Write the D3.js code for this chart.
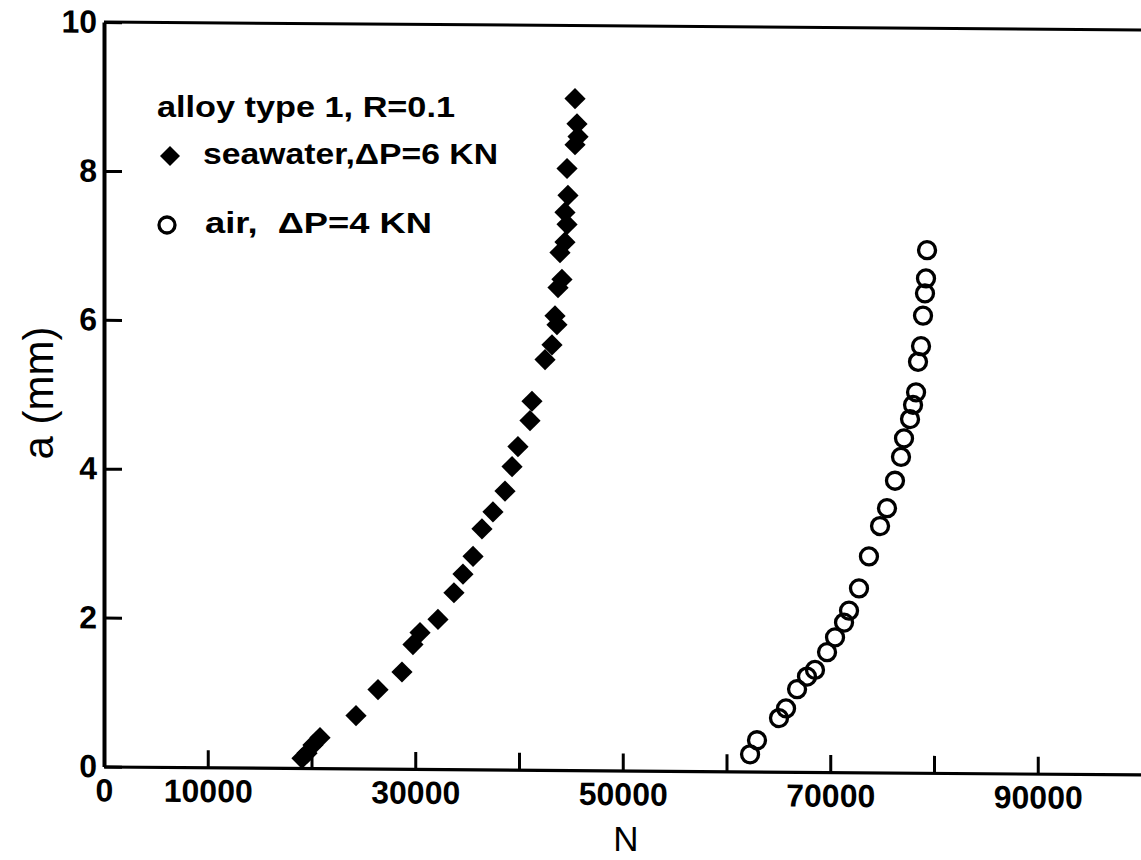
<!DOCTYPE html>
<html>
<head>
<meta charset="utf-8">
<script src="https://cdn.jsdelivr.net/npm/d3@7/dist/d3.min.js"></script>
<style>
  html, body { margin: 0; padding: 0; background: #fff; }
  svg { display: block; }
  text { font-family: "Liberation Sans", Arial, sans-serif; fill: #000; }
</style>
</head>
<body>
<svg id="chart" width="1141" height="860"></svg>
<script>
// ---- data ----
const seawaterN = [19080, 19570, 20140, 20820, 24290, 26410, 28720, 29780, 30460, 32190,
  33730, 34600, 35570, 36430, 37490, 38650, 39330, 39900, 41060, 41250,
  42510, 43180, 43660, 43470, 43760, 44140, 43950, 44430, 44630, 44430,
  44720, 44630, 45400, 45690, 45590, 45400];
const seawaterA = [0.13, 0.20, 0.31, 0.41, 0.71, 1.06, 1.30, 1.67, 1.83, 2.01,
  2.37, 2.62, 2.86, 3.23, 3.46, 3.74, 4.07, 4.34, 4.69, 4.95,
  5.51, 5.71, 5.98, 6.10, 6.48, 6.59, 6.95, 7.09, 7.33, 7.49,
  7.72, 8.08, 8.40, 8.51, 8.68, 9.02];
const airN = [79330, 79230, 79130, 78940, 78750, 78460, 78270, 77980, 77690, 77110,
  76820, 76240, 75470, 74800, 73730, 72770, 71810, 71330, 70460, 69690,
  68530, 67760, 66800, 65740, 65060, 62940, 62270];
const airA = [7.02, 6.64, 6.44, 6.14, 5.73, 5.52, 5.11, 4.94, 4.75, 4.49,
  4.24, 3.92, 3.55, 3.31, 2.90, 2.47, 2.17, 2.01, 1.81, 1.61,
  1.37, 1.28, 1.11, 0.85, 0.72, 0.42, 0.23];
const xTicks = [0, 10000, 20000, 30000, 40000, 50000, 60000, 70000, 80000, 90000];
const xTickLabels = ["0", "10000", "", "30000", "", "50000", "", "70000", "", "90000"];
const yTicks = [0, 2, 4, 6, 8, 10];
const yTickLabels = ["0", "2", "4", "6", "8", "10"];
const legendTitle = "alloy type 1, R=0.1";
const seriesLabels = ["seawater,\u0394P=6 KN", "air,  \u0394P=4 KN"];
const xTitle = "N";
const yTitle = "a (mm)";

// ---- layout ----
const svg = d3.select("#chart");
const x = d3.scaleLinear().domain([0, 100000]).range([104, 1141.5]);
const y = d3.scaleLinear().domain([0, 10]).range([766.5, 22]);

// slight skew of the scanned original
const g = svg.append("g").attr("transform", "translate(0,-0.8) skewY(0.44)");

const tickFont = "bold 32px 'Liberation Sans', Arial, sans-serif";

// x axis
const xAxis = d3.axisBottom(x)
  .tickValues(xTicks)
  .tickFormat((d, i) => xTickLabels[i])
  .tickSizeInner(-17).tickSizeOuter(0).tickPadding(12);
const gx = g.append("g").attr("transform", `translate(0,${y(0)})`).call(xAxis);
gx.select(".domain").attr("stroke", "#000").attr("stroke-width", 3.2);
gx.selectAll(".tick line").attr("stroke", "#000").attr("stroke-width", 3);
gx.selectAll(".tick text").style("font", tickFont).attr("fill", "#000");

// y axis
const yAxis = d3.axisLeft(y)
  .tickValues(yTicks)
  .tickFormat((d, i) => yTickLabels[i])
  .tickSizeInner(-18).tickSizeOuter(0).tickPadding(7);
const gy = g.append("g").attr("transform", `translate(${x(0)},0)`).call(yAxis);
gy.select(".domain").attr("stroke", "#000").attr("stroke-width", 4);
gy.selectAll(".tick line").attr("stroke", "#000").attr("stroke-width", 3);
gy.selectAll(".tick text").style("font", tickFont).attr("fill", "#000");

// top border
g.append("line")
  .attr("x1", x(0)).attr("x2", x(100000))
  .attr("y1", y(10)).attr("y2", y(10))
  .attr("stroke", "#000").attr("stroke-width", 3);

// series: seawater (filled diamonds)
const diamond = d3.symbol().type(d3.symbolSquare).size(225);
const sea = seawaterN.map((n, i) => ({ n, a: seawaterA[i] }));
g.append("g").selectAll("path").data(sea).join("path")
  .attr("d", diamond)
  .attr("transform", d => `translate(${x(d.n)},${y(d.a)}) rotate(45)`)
  .attr("fill", "#000");

// series: air (open circles)
const air = airN.map((n, i) => ({ n, a: airA[i] }));
g.append("g").selectAll("circle").data(air).join("circle")
  .attr("cx", d => x(d.n)).attr("cy", d => y(d.a)).attr("r", 8.5)
  .attr("fill", "none").attr("stroke", "#000").attr("stroke-width", 3.3);

// axis titles
svg.append("text")
  .attr("x", 626).attr("y", 851)
  .attr("text-anchor", "middle")
  .style("font", "35px 'Liberation Sans', Arial, sans-serif")
  .text(xTitle);
svg.append("text")
  .attr("transform", "translate(53,393) rotate(-90)")
  .attr("text-anchor", "middle")
  .style("font", "42px 'Liberation Sans', Arial, sans-serif")
  .text(yTitle);

// legend
const legFont = "bold 29px 'Liberation Sans', Arial, sans-serif";
svg.append("text").attr("x", 157).attr("y", 117)
  .style("font", legFont).attr("textLength", 298).attr("lengthAdjust", "spacingAndGlyphs")
  .text(legendTitle);
svg.append("path").attr("d", d3.symbol().type(d3.symbolSquare).size(200))
  .attr("transform", "translate(170,156) rotate(45)").attr("fill", "#000");
svg.append("text").attr("x", 203).attr("y", 164)
  .style("font", legFont).style("white-space", "pre")
  .attr("textLength", 295).attr("lengthAdjust", "spacingAndGlyphs")
  .text(seriesLabels[0]);
svg.append("circle").attr("cx", 167).attr("cy", 225).attr("r", 8)
  .attr("fill", "none").attr("stroke", "#000").attr("stroke-width", 3.3);
svg.append("text").attr("x", 205).attr("y", 233)
  .style("font", legFont).style("white-space", "pre")
  .attr("textLength", 227).attr("lengthAdjust", "spacingAndGlyphs")
  .text(seriesLabels[1]);
</script>
</body>
</html>
